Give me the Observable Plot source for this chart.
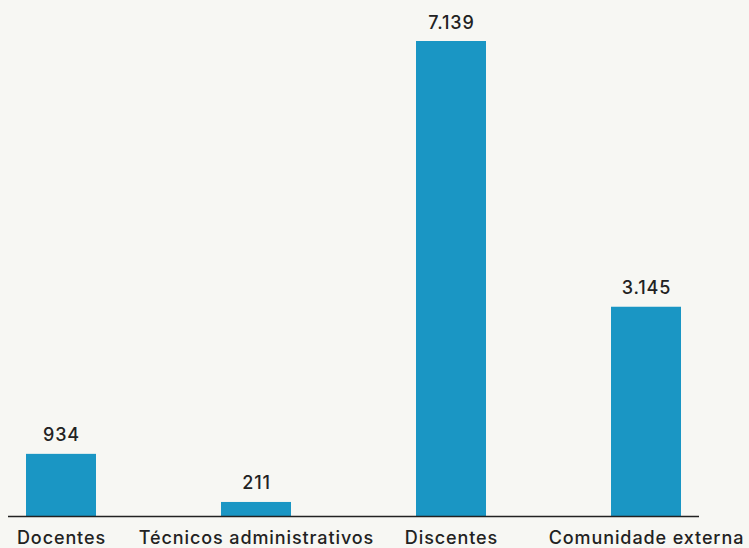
<!DOCTYPE html>
<html><head><meta charset="utf-8">
<script src="https://cdn.jsdelivr.net/npm/d3@7"></script>
<script src="https://cdn.jsdelivr.net/npm/@observablehq/plot@0.6"></script>
<style>
html,body{margin:0;padding:0;background:#f7f7f3;}
#chart svg{display:block;}
#chart svg text{letter-spacing:0.9px;}
</style></head>
<body><div id="chart"></div>
<script>
const categories = ["Docentes", "Técnicos administrativos", "Discentes", "Comunidade externa"];
const values = [934, 211, 7139, 3145];
const data = categories.map((c, i) => ({cat: c, value: values[i]}));
const fmt = d3.formatLocale({decimal: ",", thousands: ".", grouping: [3], currency: ["", ""]}).format(",d");
const font = "Inter, sans-serif";
const chart = Plot.plot({
  width: 749, height: 548,
  marginTop: 41, marginBottom: 32, marginLeft: 8, marginRight: 50,
  style: {background: "#f7f7f3", fontFamily: font, overflow: "visible"},
  x: {domain: categories, paddingInner: 0.641, paddingOuter: 0.092, align: 0.5},
  y: {domain: [0, 7139], axis: null},
  marks: [
    Plot.barY(data, {x: "cat", y: "value", fill: "#1a96c4"}),
    Plot.text(data, {x: "cat", y: "value", text: d => fmt(d.value), dy: -13, lineAnchor: "bottom", fontSize: 18, fontWeight: 500, fill: "#222"}),
    Plot.ruleY([0], {stroke: "#222", strokeWidth: 1.5}),
    Plot.axisX({tickSize: 0, tickPadding: 14.5, fontSize: 18, fontWeight: 500, color: "#222", label: null})
  ]
});
document.getElementById("chart").append(chart);
</script></body></html>
